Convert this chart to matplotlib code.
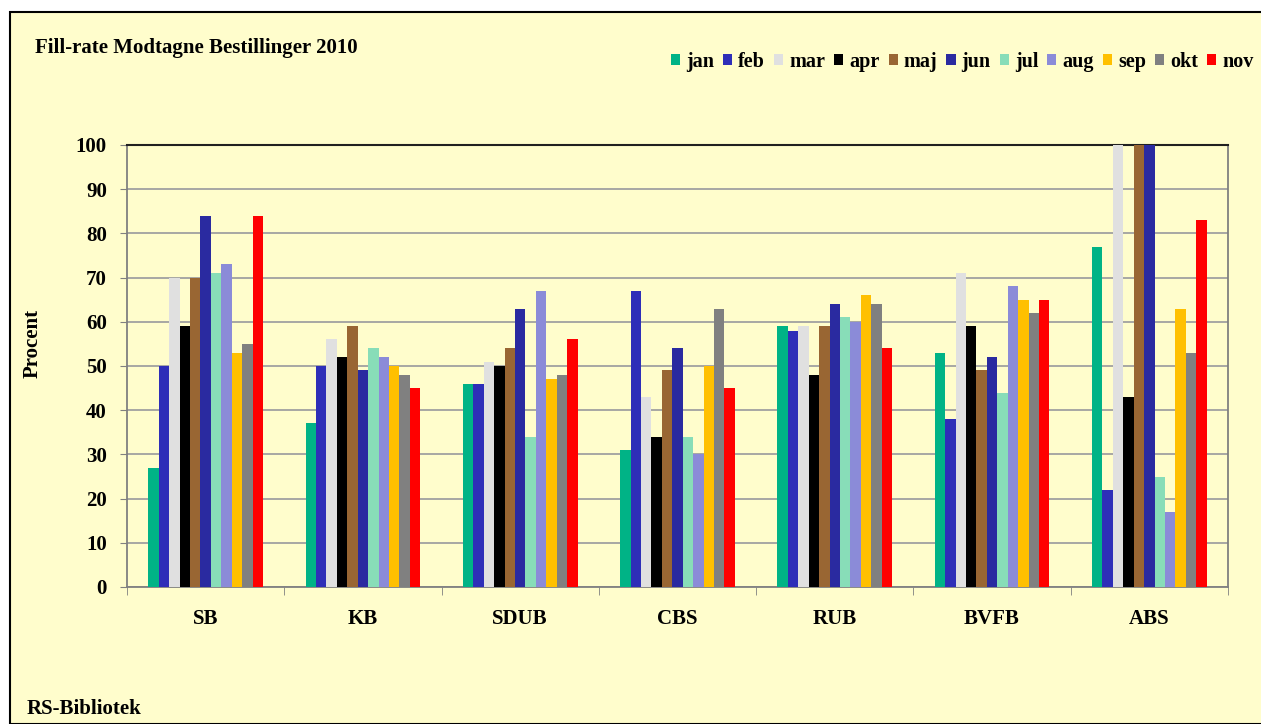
import matplotlib
matplotlib.use("Agg")
import matplotlib.pyplot as plt
import numpy as np
from matplotlib.patches import Rectangle, Patch

categories = ["SB", "KB", "SDUB", "CBS", "RUB", "BVFB", "ABS"]
months = ["jan", "feb", "mar", "apr", "maj", "jun", "jul", "aug", "sep", "okt", "nov"]
values = {
    "jan": [27, 37, 46, 31, 59, 53, 77],
    "feb": [50, 50, 46, 67, 58, 38, 22],
    "mar": [70, 56, 51, 43, 59, 71, 100],
    "apr": [59, 52, 50, 34, 48, 59, 43],
    "maj": [70, 59, 54, 49, 59, 49, 100],
    "jun": [84, 49, 63, 54, 64, 52, 100],
    "jul": [71, 54, 34, 34, 61, 44, 25],
    "aug": [73, 52, 67, 30, 60, 68, 17],
    "sep": [53, 50, 47, 50, 66, 65, 63],
    "okt": [55, 48, 48, 63, 64, 62, 53],
    "nov": [84, 45, 56, 45, 54, 65, 83],
}
colors = ["#00B386", "#2E2EB8", "#E0E0E0", "#000000", "#996633", "#2A2AA0",
          "#88DDB8", "#8B8BD8", "#FFC000", "#808080", "#FF0000"]
yticks = list(range(0, 101, 10))

W, H = 1261, 724
fig = plt.figure(figsize=(W / 100, H / 100), dpi=100)
fig.patch.set_facecolor("white")
bg = "#FFFDCC"
fig.patches.append(Rectangle((10 / W, 0), 1.2, 1 - 12 / H, transform=fig.transFigure,
                             facecolor=bg, edgecolor="black", linewidth=1.5, zorder=-10))

ax = fig.add_axes([127 / W, 1 - 587 / H, (1228 - 127) / W, (587 - 145) / H])
ax.set_facecolor(bg)
font = "Liberation Serif"

n = len(months)
bw = 0.73 / n
x = np.arange(len(categories))
for i, m in enumerate(months):
    ax.bar(x - 0.365 + bw * (i + 0.5), values[m], width=bw, color=colors[i],
           edgecolor="none", zorder=3)

ax.set_xlim(-0.5, len(categories) - 0.5)
ax.set_ylim(0, 100)
ax.set_yticks(yticks)
ax.set_yticklabels([str(v) for v in yticks], fontfamily=font, fontweight="bold", fontsize=15)
ax.yaxis.grid(True, color="#A0A0A0", linewidth=1.3, zorder=0)
ax.set_xticks(x)
ax.set_xticklabels(categories, fontfamily=font, fontweight="bold", fontsize=15)
ax.tick_params(axis="x", length=0, pad=16)
ax.set_xticks(np.arange(-0.5, len(categories)), minor=True)
ax.tick_params(axis="x", which="minor", length=6, color="#808080", direction="out")
ax.tick_params(axis="y", length=5, color="#808080", pad=9.5)
for s in ["left", "bottom", "right"]:
    ax.spines[s].set_color("#808080")
    ax.spines[s].set_linewidth(1.3)
ax.spines["top"].set_color("#202020")
ax.spines["top"].set_linewidth(1.5)
ax.set_ylabel("Procent", fontfamily=font, fontweight="bold", fontsize=15)
ax.yaxis.set_label_coords(43 / W, 1 - 343 / H, transform=fig.transFigure)

fig.text(35 / W, 1 - 48 / H, "Fill-rate Modtagne Bestillinger 2010", fontfamily=font,
         fontweight="bold", fontsize=15, va="center", ha="left")
fig.text(27 / W, 1 - 709 / H, "RS-Bibliotek", fontfamily=font, fontweight="bold",
         fontsize=15, va="center", ha="left")

handles = [Patch(facecolor=c, edgecolor="none") for c in colors]
fig.legend(handles, months, loc="center left", bbox_to_anchor=(671 / W, 1 - 62 / H),
           ncol=n, frameon=False, handlelength=0.45, handleheight=0.45, handletextpad=0.3,
           columnspacing=0.45, borderaxespad=0, borderpad=0,
           prop={"family": font, "weight": "bold", "size": 14.5})

fig.savefig("out.png", dpi=100, facecolor=fig.get_facecolor())
